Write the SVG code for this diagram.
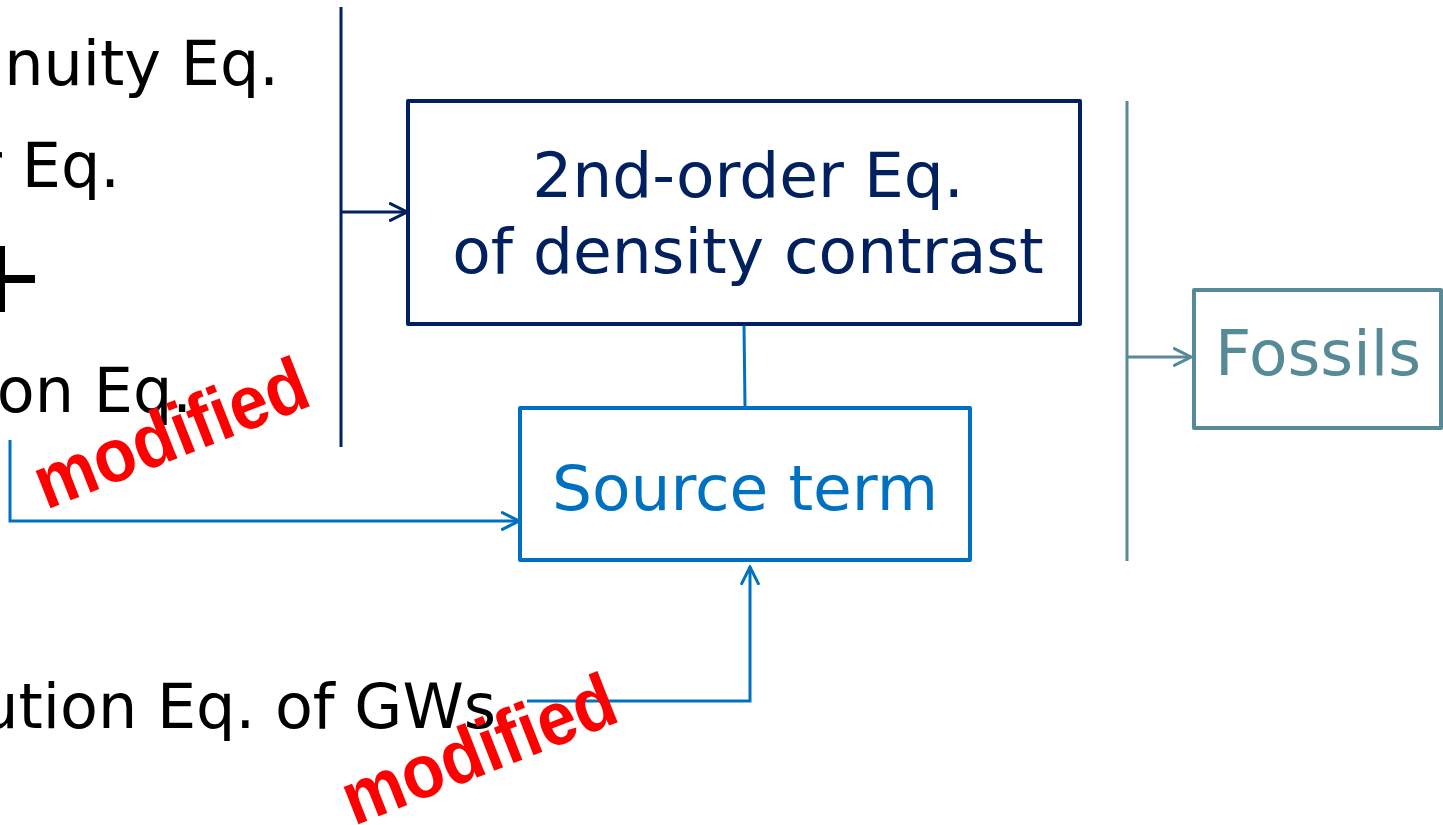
<svg xmlns="http://www.w3.org/2000/svg" width="1443" height="825" viewBox="0 0 1443 825">
  <style>
    .t { font-family: "DejaVu Sans", Verdana, sans-serif; font-size: 62px; fill: #000; }
    .box { fill: #fff; stroke-width: 4; stroke-linejoin: round; }
    .lbl { font-family: "DejaVu Sans", Verdana, sans-serif; font-size: 63px; text-anchor: middle; }
    .mod { font-family: "Liberation Sans", Arial, sans-serif; font-weight: bold; font-size: 76px; fill: #FF0000; }
    .navy { stroke: #002060; fill: none; stroke-width: 3; }
    .blue { stroke: #0070C0; fill: none; stroke-width: 3; }
    .teal { stroke: #568A96; fill: none; stroke-width: 3; }
  </style>
  <defs>
    <marker id="hNavy" viewBox="0 0 12 12" refX="11" refY="6" markerWidth="20" markerHeight="20" markerUnits="userSpaceOnUse" orient="auto">
      <path d="M1,1 L11,6 L1,11" fill="none" stroke="#002060" stroke-width="1.8" stroke-linecap="round"/>
    </marker>
    <marker id="hBlue" viewBox="0 0 12 12" refX="11" refY="6" markerWidth="20" markerHeight="20" markerUnits="userSpaceOnUse" orient="auto">
      <path d="M1,1 L11,6 L1,11" fill="none" stroke="#0070C0" stroke-width="1.8" stroke-linecap="round"/>
    </marker>
    <marker id="hTeal" viewBox="0 0 12 12" refX="11" refY="6" markerWidth="20" markerHeight="20" markerUnits="userSpaceOnUse" orient="auto">
      <path d="M1,1 L11,6 L1,11" fill="none" stroke="#568A96" stroke-width="1.8" stroke-linecap="round"/>
    </marker>
  </defs>
  <rect width="1443" height="825" fill="#fff"/>

  <!-- equations on the left -->
  <g id="equations">
    <text class="t" x="279" y="85" text-anchor="end">Continuity Eq.</text>
    <text class="t" x="120" y="187" text-anchor="end">Euler Eq.</text>
    <text class="t" x="192" y="412" text-anchor="end">Poisson Eq.</text>
    <text class="t" x="496" y="728" text-anchor="end">Evolution Eq. of GWs</text>
    <path d="M-40,279 H35 M1,246 V312" stroke="#000" stroke-width="8" fill="none"/>
  </g>

  <!-- connectors -->
  <g id="connectors">
    <path class="navy" d="M341,7 V447"/>
    <path class="navy" d="M341,212 H407" marker-end="url(#hNavy)"/>
    <path class="blue" d="M744,325 L745,407"/>
    <path class="blue" d="M10,440 V521 H519" marker-end="url(#hBlue)"/>
    <path class="blue" d="M527,701 H750 V567" marker-end="url(#hBlue)"/>
    <path class="teal" d="M1127,101 V561"/>
    <path class="teal" d="M1127,357 H1191" marker-end="url(#hTeal)"/>
  </g>

  <g id="density-eq">
    <rect class="box" x="408" y="101" width="672" height="223" stroke="#002060"/>
    <text class="lbl" x="748" y="197" fill="#002060">2nd-order Eq.</text>
    <text class="lbl" x="748" y="273" fill="#002060">of density contrast</text>
  </g>

  <g id="source-term">
    <rect class="box" x="520" y="408" width="450" height="152" stroke="#0070C0"/>
    <text class="lbl" x="745" y="510" fill="#0070C0">Source term</text>
  </g>

  <g id="fossils">
    <rect class="box" x="1194" y="290" width="247" height="138" stroke="#568A96"/>
    <text class="lbl" x="1318" y="375" fill="#568A96">Fossils</text>
  </g>

  <!-- modification marks -->
  <g id="marks">
    <text class="mod" transform="translate(46,510) rotate(-21.5)" textLength="288" lengthAdjust="spacingAndGlyphs">modified</text>
    <text class="mod" transform="translate(354,826) rotate(-21.5)" textLength="288" lengthAdjust="spacingAndGlyphs">modified</text>
  </g>
</svg>
